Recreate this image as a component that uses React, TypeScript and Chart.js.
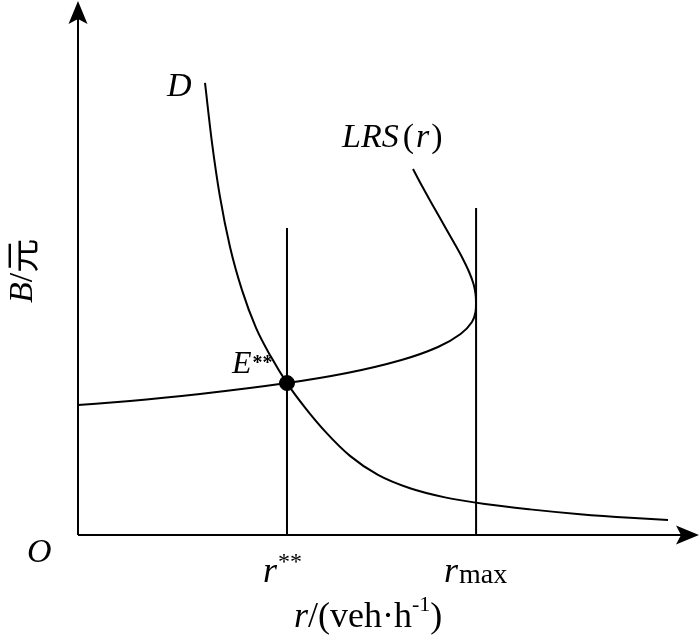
import React, { useEffect, useRef } from "react";
import { Chart, registerables } from "chart.js";

Chart.register(...registerables);

// Axis ranges (arbitrary units, arrow tip = max)
const X_MAX = 100;
const Y_MAX = 100;

// Demand curve D
const dX = [20.42, 21.54, 22.83, 24.44, 26.37, 28.62, 31.03, 33.6, 36.5, 39.87, 43.73, 48.23, 53.38, 59.0, 65.43, 72.67, 80.71, 88.75, 94.86];
const dY = [84.49, 73.36, 63.2, 53.85, 45.78, 38.71, 33.3, 28.38, 23.81, 19.18, 14.79, 11.23, 8.73, 7.03, 5.79, 4.79, 3.89, 3.21, 2.82];

// LRS(r) curve (backward bending) — ordered by increasing B
const lrsX = [0, 8.36, 19.61, 33.6, 43.25, 52.01, 57.88, 61.51, 63.34, 63.91, 63.99, 63.91, 63.59, 62.88, 61.8, 60.48, 58.65, 56.82, 55.31, 53.86];
const lrsY = [24.3, 25.05, 26.36, 28.4, 30.28, 32.71, 35.14, 37.57, 39.81, 41.68, 43.36, 45.05, 46.92, 49.16, 51.78, 54.58, 58.32, 62.06, 65.23, 68.41];

// Vertical reference lines
const rStar = 33.6;
const rStarTop = 57.4;
const rMax = 64.0;
const rMaxTop = 61.1;

// Equilibrium point E**
const eX = [33.6];
const eY = [28.4];

const SERIF = '"Liberation Serif", "Times New Roman", serif';
const CJK = '"Noto Sans CJK SC", sans-serif';

type Seg = { text: string; font: string; dy?: number; gap?: number };

function drawRich(ctx: CanvasRenderingContext2D, x: number, y: number, segs: Seg[]) {
  let cx = x;
  for (const s of segs) {
    ctx.font = s.font;
    ctx.fillText(s.text, cx, y + (s.dy || 0));
    cx += ctx.measureText(s.text).width + (s.gap || 0);
  }
}

function arrowHead(ctx: CanvasRenderingContext2D, tipX: number, tipY: number, dirX: number, dirY: number) {
  const len = 23;
  const half = 9.5;
  const notch = 18;
  const px = -dirY;
  const py = dirX;
  ctx.beginPath();
  ctx.moveTo(tipX, tipY);
  ctx.lineTo(tipX - dirX * len + px * half, tipY - dirY * len + py * half);
  ctx.lineTo(tipX - dirX * notch, tipY - dirY * notch);
  ctx.lineTo(tipX - dirX * len - px * half, tipY - dirY * len - py * half);
  ctx.closePath();
  ctx.fill();
}

const decorPlugin = {
  id: "decor",
  afterDatasetsDraw(chart: any) {
    const ctx: CanvasRenderingContext2D = chart.ctx;
    const xs = chart.scales.x;
    const ys = chart.scales.y;
    const ox = xs.getPixelForValue(0);
    const oy = ys.getPixelForValue(0);
    const tipX = xs.getPixelForValue(X_MAX) - 1;
    const tipY = ys.getPixelForValue(Y_MAX) + 1;
    ctx.save();
    ctx.strokeStyle = "#000";
    ctx.fillStyle = "#000";
    ctx.lineWidth = 2;
    // axes
    ctx.beginPath();
    ctx.moveTo(ox, oy);
    ctx.lineTo(tipX - 15, oy);
    ctx.moveTo(ox, oy);
    ctx.lineTo(ox, tipY + 15);
    ctx.stroke();
    arrowHead(ctx, tipX, oy, 1, 0);
    arrowHead(ctx, ox, tipY, 0, -1);

    ctx.textBaseline = "alphabetic";
    ctx.textAlign = "left";
    // Origin
    drawRich(ctx, ox - 51, oy + 27, [{ text: "O", font: `italic 34px ${SERIF}` }]);

    // r** tick label
    const xsPix = xs.getPixelForValue(rStar);
    drawRich(ctx, xsPix - 24, oy + 47, [
      { text: "r", font: `italic 36px ${SERIF}`, gap: 1 },
      { text: "**", font: `24px ${SERIF}`, dy: -13 },
    ]);
    // r_max tick label
    const xmPix = xs.getPixelForValue(rMax);
    drawRich(ctx, xmPix - 32, oy + 47, [
      { text: "r", font: `italic 36px ${SERIF}`, gap: 1 },
      { text: "max", font: `28px ${SERIF}`, dy: 1 },
    ]);

    // x-axis title
    drawRich(ctx, 294, 627, [
      { text: "r", font: `italic 36px ${SERIF}` },
      { text: "/(veh·h", font: `36px ${SERIF}` },
      { text: "-1", font: `22px ${SERIF}`, dy: -16 },
      { text: ")", font: `36px ${SERIF}` },
    ]);

    // y-axis title (rotated)
    ctx.save();
    ctx.translate(32, 303);
    ctx.rotate(-Math.PI / 2);
    drawRich(ctx, 0, 0, [
      { text: "B", font: `italic 34px ${SERIF}` },
      { text: "/", font: `34px ${SERIF}` },
      { text: "元", font: `34px ${CJK}`, dy: 3 },
    ]);
    ctx.restore();

    // Curve labels
    const d0x = xs.getPixelForValue(dX[0]);
    const d0y = ys.getPixelForValue(dY[0]);
    drawRich(ctx, d0x - 38, d0y + 13, [{ text: "D", font: `italic 34px ${SERIF}` }]);

    const lx = xs.getPixelForValue(lrsX[lrsX.length - 1]);
    const ly = ys.getPixelForValue(lrsY[lrsY.length - 1]);
    drawRich(ctx, lx - 71, ly - 22, [
      { text: "LRS", font: `italic 34px ${SERIF}`, gap: 4 },
      { text: "(", font: `34px ${SERIF}`, gap: 2 },
      { text: "r", font: `italic 34px ${SERIF}`, gap: 2 },
      { text: ")", font: `34px ${SERIF}` },
    ]);

    const ex = xs.getPixelForValue(eX[0]);
    const ey = ys.getPixelForValue(eY[0]);
    drawRich(ctx, ex - 55, ey - 10, [
      { text: "E", font: `italic 32px ${SERIF}`, gap: 1 },
      { text: "**", font: `bold 20px ${SERIF}`, dy: -4 },
    ]);
    ctx.restore();
  },
};

export default function App() {
  const ref = useRef<HTMLCanvasElement | null>(null);
  useEffect(() => {
    document.body.style.margin = "0";
    const canvas = ref.current!;
    const line = (xsArr: number[], ysArr: number[], extra: any) => ({
      data: xsArr.map((x, i) => ({ x, y: ysArr[i] })),
      showLine: true,
      borderColor: "#000",
      borderWidth: 2,
      pointRadius: 0,
      pointHoverRadius: 0,
      fill: false,
      clip: false as any,
      ...extra,
    });
    const chart = new Chart(canvas, {
      type: "scatter",
      data: {
        datasets: [
          line(dX, dY, { type: "line", indexAxis: "x", cubicInterpolationMode: "monotone" }),
          line(lrsX, lrsY, { type: "line", indexAxis: "y", cubicInterpolationMode: "monotone" }),
          line([rStar, rStar], [0, rStarTop], { tension: 0 }),
          line([rMax, rMax], [0, rMaxTop], { tension: 0 }),
          {
            data: eX.map((x, i) => ({ x, y: eY[i] })),
            pointRadius: 7.5,
            pointHoverRadius: 7.5,
            pointBackgroundColor: "#000",
            pointBorderColor: "#000",
            showLine: false,
            clip: false as any,
          },
        ] as any,
      },
      options: {
        animation: false,
        responsive: false,
        devicePixelRatio: 1,
        events: [],
        layout: { autoPadding: false, padding: { left: 78, right: 0, top: 0, bottom: 101 } },
        plugins: { legend: { display: false }, tooltip: { enabled: false } },
        scales: {
          x: { type: "linear", min: 0, max: X_MAX, display: false },
          y: { type: "linear", min: 0, max: Y_MAX, display: false },
        },
      },
      plugins: [decorPlugin],
    });
    return () => chart.destroy();
  }, []);
  return (
    <div style={{ position: "absolute", left: 0, top: 0, width: 700, height: 636, background: "#fff" }}>
      <canvas ref={ref} width={700} height={636} style={{ width: 700, height: 636, display: "block" }} />
    </div>
  );
}
